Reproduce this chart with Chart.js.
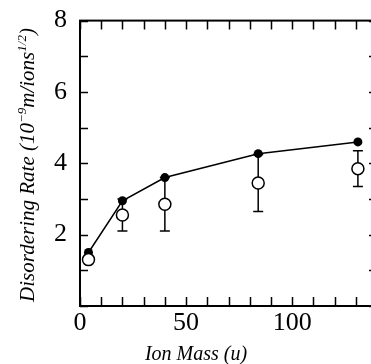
<!DOCTYPE html>
<html>
<head>
<meta charset="utf-8">
<script src="https://cdn.jsdelivr.net/npm/chart.js@4/dist/chart.umd.min.js"></script>
<style>
  html, body { margin: 0; padding: 0; background: #fff; overflow: hidden; }
  canvas { display: block; }
</style>
</head>
<body>
<canvas id="grafico" width="390" height="364"></canvas>
<script>
// datos
const ionMass = [4, 20, 40, 84, 131];
const rateFilled = [1.5, 2.95, 3.6, 4.27, 4.6];
const rateOpen = [1.3, 2.55, 2.85, 3.45, 3.85];
const errOpen = [0, 0.45, 0.75, 0.8, 0.5];
const xTickLabels = [0, 50, 100];
const yTickLabels = [2, 4, 6, 8];

const serif = "'Liberation Serif', 'DejaVu Serif', serif";

// marco con marcas hacia adentro
const marcoPlugin = {
  id: 'marco',
  afterDraw(chart) {
    const ctx = chart.ctx;
    const a = chart.chartArea;
    const xs = chart.scales.x, ys = chart.scales.y;
    ctx.save();
    ctx.strokeStyle = '#000';
    ctx.lineWidth = 2;
    ctx.strokeRect(a.left, a.top, a.right - a.left, a.bottom - a.top);
    ctx.lineWidth = 1.5;
    ctx.beginPath();
    xs.ticks.forEach(t => {
      const px = Math.round(xs.getPixelForValue(t.value)) + 0.5;
      ctx.moveTo(px, a.bottom); ctx.lineTo(px, a.bottom - 9);
      ctx.moveTo(px, a.top); ctx.lineTo(px, a.top + 9);
    });
    ys.ticks.forEach(t => {
      const py = Math.round(ys.getPixelForValue(t.value)) + 0.5;
      ctx.moveTo(a.left, py); ctx.lineTo(a.left + 8, py);
      ctx.moveTo(a.right, py); ctx.lineTo(a.right - 8, py);
    });
    ctx.stroke();

    // titulos de ejes
    ctx.fillStyle = '#000';
    ctx.font = 'italic 20px ' + serif;
    ctx.textAlign = 'center';
    ctx.textBaseline = 'alphabetic';
    ctx.fillText('Ion Mass (u)', 196, 360);

    const partes = [
      ['Disordering Rate (10', false],
      ['\u22129', true],
      ['m/ions', false],
      ['1/2', true],
      [')', false]
    ];
    const fNormal = 'italic 21px ' + serif;
    const fSup = 'italic 13px ' + serif;
    let total = 0;
    partes.forEach(p => {
      ctx.font = p[1] ? fSup : fNormal;
      total += ctx.measureText(p[0]).width;
    });
    ctx.translate(34, 165);
    ctx.rotate(-Math.PI / 2);
    ctx.textAlign = 'left';
    let pos = -total / 2;
    partes.forEach(p => {
      ctx.font = p[1] ? fSup : fNormal;
      ctx.fillText(p[0], pos, p[1] ? -8 : 0);
      pos += ctx.measureText(p[0]).width;
    });
    ctx.restore();
  }
};

// barras de error de los puntos abiertos
const erroresPlugin = {
  id: 'errores',
  beforeDatasetsDraw(chart) {
    const ctx = chart.ctx;
    const xs = chart.scales.x, ys = chart.scales.y;
    ctx.save();
    ctx.strokeStyle = '#000';
    ctx.lineWidth = 1.5;
    ctx.beginPath();
    ionMass.forEach((m, i) => {
      if (!errOpen[i]) return;
      const px = xs.getPixelForValue(m);
      const yLo = ys.getPixelForValue(rateOpen[i] - errOpen[i]);
      const yHi = ys.getPixelForValue(rateOpen[i] + errOpen[i]);
      ctx.moveTo(px, yLo); ctx.lineTo(px, yHi);
      ctx.moveTo(px - 5, yLo); ctx.lineTo(px + 5, yLo);
      ctx.moveTo(px - 5, yHi); ctx.lineTo(px + 5, yHi);
    });
    ctx.stroke();
    ctx.restore();
  }
};

new Chart(document.getElementById('grafico').getContext('2d'), {
  type: 'scatter',
  data: {
    datasets: [{
      data: ionMass.map((m, i) => ({ x: m, y: rateFilled[i] })),
      showLine: true,
      borderColor: '#000',
      borderWidth: 1.5,
      backgroundColor: '#000',
      pointRadius: 4.5,
      pointBorderWidth: 0,
      order: 2
    }, {
      data: ionMass.map((m, i) => ({ x: m, y: rateOpen[i] })),
      showLine: false,
      borderColor: '#000',
      backgroundColor: '#fff',
      pointRadius: 6,
      pointBorderWidth: 1.5,
      order: 1
    }]
  },
  options: {
    responsive: false,
    animation: false,
    layout: { padding: { top: 18, right: 13, left: 0, bottom: 0 } },
    plugins: { legend: { display: false }, tooltip: { enabled: false } },
    scales: {
      x: {
        type: 'linear', min: 0, max: 140,
        grid: { display: false },
        border: { display: false },
        afterFit: s => { s.height = 58; },
        ticks: {
          stepSize: 10, color: '#000', padding: -6,
          font: { family: serif, size: 26 },
          maxRotation: 0, autoSkip: false,
          callback: v => xTickLabels.includes(v) ? String(v) : ''
        }
      },
      y: {
        min: 0, max: 8,
        grid: { display: false },
        border: { display: false },
        afterFit: s => { s.width = 80; },
        ticks: {
          stepSize: 1, color: '#000', padding: 5,
          font: { family: serif, size: 26 },
          autoSkip: false,
          callback: v => yTickLabels.includes(v) ? String(v) : ''
        }
      }
    }
  },
  plugins: [erroresPlugin, marcoPlugin]
});
</script>
</body>
</html>
